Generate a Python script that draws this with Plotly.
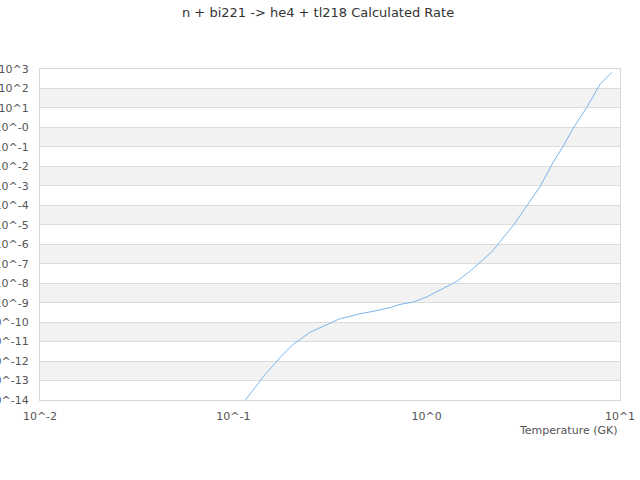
import plotly.graph_objects as go

title_text = "n + bi221 -> he4 + tl218 Calculated Rate"
x_title = "Temperature (GK)"

# Temperature (GK) and rate
temperature = [0.115, 0.143, 0.178, 0.204, 0.249, 0.304, 0.356, 0.386, 0.452, 0.530,
               0.646, 0.728, 0.853, 1.0, 1.127, 1.321, 1.43, 1.675, 1.888, 2.17,
               2.59, 2.81, 3.29, 3.85, 4.52, 5.09, 5.73, 6.73, 7.88, 9.06]
rate = [9.3e-15, 1.6e-13, 1.9e-12, 7.1e-12, 3.0e-11, 7.6e-11, 1.5e-10, 1.8e-10, 2.7e-10, 3.6e-10,
        5.5e-10, 8.1e-10, 1.07e-9, 1.95e-9, 3.5e-9, 8.3e-9, 1.23e-8, 4.1e-8, 1.15e-7, 4.0e-7,
        3.5e-6, 9.5e-6, 9.1e-5, 8.9e-4, 1.66e-2, 0.112, 0.91, 10.7, 162, 660]

x_tick_vals = [0.01, 0.1, 1, 10]
x_tick_text = ["10^-2", "10^-1", "10^0", "10^1"]
y_exponents = list(range(3, -15, -1))
y_tick_vals = [10.0 ** e for e in y_exponents]
y_tick_text = ["10^%d" % e if e != 0 else "10^-0" for e in y_exponents]

y_lo, y_hi = -14, 3

fig = go.Figure()
fig.add_trace(go.Scatter(x=temperature, y=rate, mode="lines",
                         line=dict(color="#7cb5ec", width=1), showlegend=False,
                         hoverinfo="skip"))

# alternating bands (grey between 10^(2k) and 10^(2k-1))
shapes = []
for e in y_exponents:
    if e % 2 == 0 and e - 1 >= y_lo:
        shapes.append(dict(type="rect", xref="paper", yref="paper", layer="below",
                           x0=0, x1=1,
                           y0=(e - 1 - y_lo) / (y_hi - y_lo), y1=(e - y_lo) / (y_hi - y_lo),
                           fillcolor="#f2f2f2", line=dict(width=0)))

fig.update_layout(
    width=640, height=480,
    margin=dict(l=40, r=20, t=69, b=80),
    paper_bgcolor="white", plot_bgcolor="white",
    font=dict(family="DejaVu Sans", size=11, color="#555555"),
    title=dict(text=title_text, x=0.497, xanchor="center", y=0.975, yanchor="middle",
               font=dict(family="DejaVu Sans", size=13, color="#333333")),
    shapes=shapes,
    xaxis=dict(type="log", range=[-2, 1], tickvals=x_tick_vals, ticktext=x_tick_text,
               showgrid=False, zeroline=False, showline=True, linecolor="#d8d8d8",
               mirror=True, ticks="", ticklabelstandoff=6, automargin=False,
               tickfont=dict(size=11, color="#555555")),
    yaxis=dict(type="log", range=[y_lo, y_hi], tickvals=y_tick_vals, ticktext=y_tick_text,
               showgrid=True, gridcolor="#dcdcdc", gridwidth=1, zeroline=False,
               showline=True, linecolor="#d8d8d8", mirror=True, ticks="", automargin=False,
               ticklabelstandoff=8, tickfont=dict(size=11, color="#555555")),
    annotations=[dict(text=x_title, xref="paper", yref="paper", x=1, y=0,
                      xanchor="right", yanchor="top", yshift=-22, showarrow=False,
                      font=dict(size=11, color="#555555"))],
)

fig.write_html("out.html", config={"displayModeBar": False},
               post_script="document.body.style.margin='0px';document.body.style.overflow='hidden';")
